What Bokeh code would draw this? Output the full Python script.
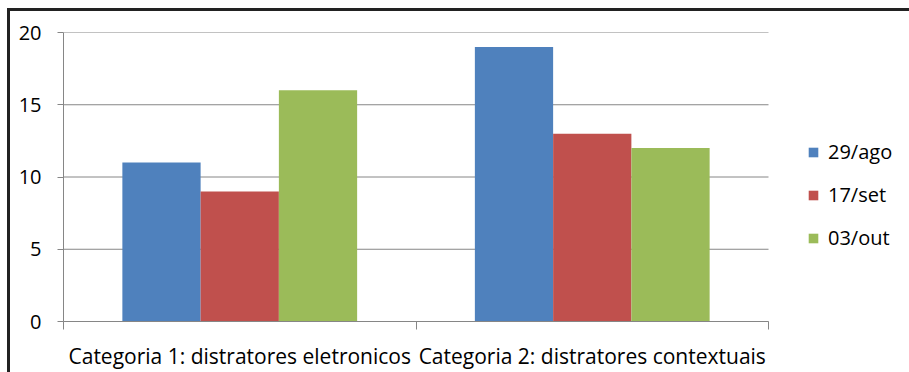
from bokeh.plotting import figure
from bokeh.models import Range1d, FixedTicker, Legend, LegendItem, ColumnDataSource
from bokeh.embed import file_html
from bokeh.resources import INLINE

categories = ["Categoria 1: distratores eletronicos", "Categoria 2: distratores contextuais"]
series_names = ["29/ago", "17/set", "03/out"]
values_29ago = [11, 19]
values_17set = [9, 13]
values_03out = [16, 12]
colors = ["#4F81BD", "#C0504D", "#9BBB59"]
y_ticks = [0, 5, 10, 15, 20]

FONT = "Open Sans"
GRAY = "#868686"

W, H = 909, 372
PLOT_LEFT, PLOT_RIGHT = 63, 768
n = len(categories)
x_end = n * (W - PLOT_LEFT) / (PLOT_RIGHT - PLOT_LEFT)

p = figure(width=W, height=H, output_backend="svg", toolbar_location=None,
           x_range=Range1d(0, x_end), y_range=Range1d(0, 20),
           min_border_left=PLOT_LEFT, min_border_right=0, min_border_top=32, min_border_bottom=50)
p.outline_line_color = None
p.background_fill_color = None
p.border_fill_color = None
p.styles = {
    "background-color": "white",
    "background-image": "linear-gradient(#222222, #222222), linear-gradient(#222222, #222222)",
    "background-size": "100% 3px, 3px 100%",
    "background-position": "7px 8px, 7px 8px",
    "background-repeat": "no-repeat",
}

# horizontal gridlines limited to the category span
p.segment(x0=[0] * len(y_ticks), x1=[n] * len(y_ticks), y0=y_ticks, y1=y_ticks,
          line_color=GRAY, line_width=1, level="underlay")

bar_w = 0.222
offsets = [-bar_w, 0, bar_w]
all_series = [values_29ago, values_17set, values_03out]
items = []
for name, vals, off, col in zip(series_names, all_series, offsets, colors):
    src = ColumnDataSource(dict(x=[i + 0.5 + off for i in range(n)], top=vals))
    r = p.vbar(x="x", top="top", bottom=0, width=bar_w, source=src, fill_color=col, line_color=None)
    items.append(LegendItem(label=name, renderers=[r]))

# axes
p.xaxis.bounds = (0, n)
p.xaxis.ticker = FixedTicker(ticks=[i + 0.5 for i in range(n)], minor_ticks=list(range(n + 1)))
p.xaxis.major_label_overrides = {i + 0.5: c for i, c in enumerate(categories)}
p.xaxis.major_tick_out = 0
p.xaxis.major_tick_in = 0
p.xaxis.minor_tick_out = 8
p.xaxis.minor_tick_in = 0
p.xaxis.minor_tick_line_color = GRAY
p.xaxis.axis_line_color = GRAY
p.xaxis.major_label_text_font = FONT
p.xaxis.major_label_text_font_size = "21px"
p.xaxis.major_label_text_color = "black"
p.xaxis.major_label_standoff = 12

p.yaxis.ticker = FixedTicker(ticks=y_ticks)
p.yaxis.major_tick_out = 6
p.yaxis.major_tick_in = 0
p.yaxis.minor_tick_line_color = None
p.yaxis.major_tick_line_color = GRAY
p.yaxis.axis_line_color = GRAY
p.yaxis.major_label_text_font = FONT
p.yaxis.major_label_text_font_size = "20px"
p.yaxis.major_label_text_color = "black"
p.yaxis.major_label_standoff = 16

p.xgrid.grid_line_color = None
p.ygrid.grid_line_color = None

legend = Legend(items=items, location=(744, 70), orientation="vertical",
                glyph_width=12, glyph_height=12, label_height=27, spacing=16,
                label_standoff=9, padding=0, margin=0,
                border_line_color=None, background_fill_alpha=0,
                label_text_font=FONT, label_text_font_size="20px", label_text_color="black")
p.add_layout(legend)

open("out.html", "w").write(file_html(p, INLINE))
